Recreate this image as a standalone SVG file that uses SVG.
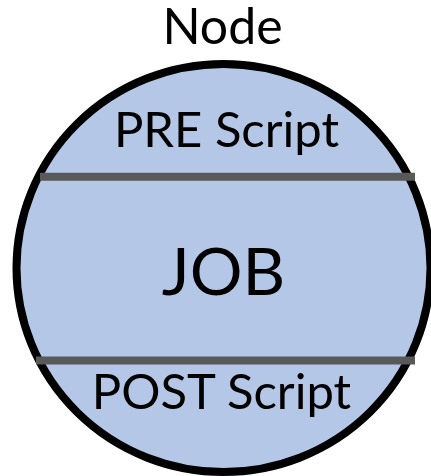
<svg xmlns="http://www.w3.org/2000/svg" width="431" height="476" viewBox="0 0 431 476">
  <style>
    .label { font-family: Lato, "Liberation Sans", sans-serif; fill: #000000; text-anchor: middle; }
    .divider { stroke: #595959; stroke-width: 8; fill: none; }
    .body { fill: #B4C7E7; stroke: #000000; stroke-width: 8; }
  </style>
  <rect width="431" height="476" fill="#FFFFFF"/>
  <text class="label" x="222.5" y="43.5" font-size="50">Node</text>
  <g id="node">
    <ellipse class="body" cx="223.5" cy="268" rx="207" ry="204"/>
    <line class="divider" x1="40" y1="176.7" x2="415" y2="176.7"/>
    <line class="divider" x1="36" y1="360.5" x2="415" y2="360.5"/>
    <text class="label" x="226.5" y="147" font-size="49">PRE Script</text>
    <text class="label" x="223.5" y="295" font-size="66">JOB</text>
    <text class="label" x="221.5" y="409" font-size="49">POST Script</text>
  </g>
</svg>
